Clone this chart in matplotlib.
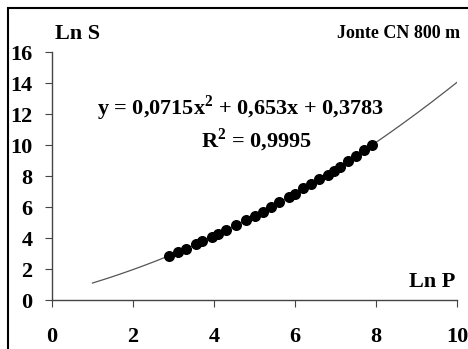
import numpy as np
import matplotlib.pyplot as plt
from matplotlib.patches import Rectangle

# Ln P / Ln S points
ln_p = [2.9, 3.1, 3.3, 3.55, 3.7, 3.95, 4.1, 4.3, 4.55, 4.8, 5.0, 5.2, 5.4,
        5.6, 5.85, 6.0, 6.2, 6.4, 6.6, 6.8, 6.95, 7.1, 7.3, 7.5, 7.7, 7.9]
ln_s = [2.85, 3.1, 3.3, 3.6, 3.8, 4.05, 4.25, 4.5, 4.85, 5.15, 5.45, 5.7, 6.0,
        6.3, 6.65, 6.85, 7.2, 7.5, 7.8, 8.1, 8.35, 8.6, 8.95, 9.3, 9.65, 10.0]

# polynomial trendline shown on the chart
coefs = [0.0715, 0.653, 0.3783]
trend_range = [1.0, 10.0]

xticks = [0, 2, 4, 6, 8, 10]
yticks = [0, 2, 4, 6, 8, 10, 12, 14, 16]

plt.rcParams['font.family'] = ['Liberation Serif', 'DejaVu Serif']
plt.rcParams['font.weight'] = 'bold'
plt.rcParams['mathtext.fontset'] = 'custom'
plt.rcParams['mathtext.rm'] = 'Liberation Serif:bold'
plt.rcParams['mathtext.bf'] = 'Liberation Serif:bold'

fig = plt.figure(figsize=(4.68, 3.49), dpi=100)
ax = fig.add_axes([0.111, 0.140, 0.866, 0.711])

xx = np.linspace(trend_range[0], trend_range[1], 200)
ax.plot(xx, np.polyval(coefs, xx), color='#555555', lw=0.9, zorder=1)
ax.scatter(ln_p, ln_s, s=48, color='black', zorder=2)

ax.set_xlim(0, 10)
ax.set_ylim(0, 16)
ax.set_xticks(xticks)
ax.set_yticks(yticks)
for side in ['top', 'right']:
    ax.spines[side].set_visible(False)
for side in ['left', 'bottom']:
    ax.spines[side].set_color('#444444')
    ax.spines[side].set_linewidth(1.0)
ax.tick_params(axis='both', direction='out', length=5, color='#444444',
               labelsize=16)
ax.tick_params(axis='x', pad=14)
ax.tick_params(axis='y', pad=9)
for lab in ax.get_xticklabels() + ax.get_yticklabels():
    lab.set_fontweight('bold')

ax.text(0.07, 16.5, 'Ln S', fontsize=16, fontweight='bold', va='bottom')
ax.text(9.95, 0.5, 'Ln P', fontsize=16, fontweight='bold', ha='right', va='bottom')
ax.text(4.65, 12.4, 'y = 0,0715x$^{2}$ + 0,653x + 0,3783', fontsize=16,
        fontweight='bold', ha='center', va='center')
ax.text(5.05, 10.3, 'R$^{2}$ = 0,9995', fontsize=16, fontweight='bold',
        ha='center', va='center')
fig.text(0.983, 0.905, 'Jonte CN 800 m', fontsize=13, fontweight='bold',
         ha='right', va='center')

# outer frame (only left and top edges visible in the original)
fig.patches.append(Rectangle((8 / 468, -0.5), 2.0, 1.5 - 8 / 349, transform=fig.transFigure,
                             fill=False, edgecolor='black', lw=1.5))

fig.savefig('out.png', dpi=100)
